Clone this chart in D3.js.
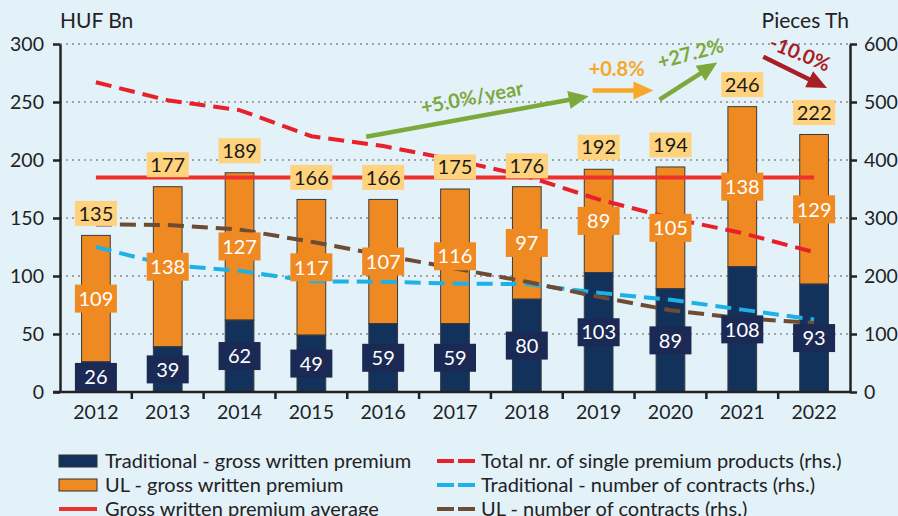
<html>

<head>
    <script src="https://d3js.org/d3.v7.min.js"></script>
    <style>
        body { margin: 0; background: #E3F1F9; }
        text { font-family: Lato, "Open Sans", sans-serif; }
    </style>
</head>

<body></body>
<script>

    // data
    var years = ["2012", "2013", "2014", "2015", "2016", "2017", "2018", "2019", "2020", "2021", "2022"];
    var traditional = [26, 39, 62, 49, 59, 59, 80, 103, 89, 108, 93];
    var ul = [109, 138, 127, 117, 107, 116, 97, 89, 105, 138, 129];
    var totals = [135, 177, 189, 166, 166, 175, 176, 192, 194, 246, 222];
    var average = 185;
    var singlePremium = [534, 503, 486, 441, 424, 400, 372, 332, 300, 274, 241];
    var tradContracts = [250, 219, 209, 191, 190, 187, 186, 171, 159, 142, 125];
    var ulContracts = [289, 288, 280, 259, 236, 213, 190, 164, 141, 127, 119];
    var leftTicks = [0, 50, 100, 150, 200, 250, 300];
    var rightTicks = [0, 100, 200, 300, 400, 500, 600];

    // annotation arrows (year, offset px, left-axis value)
    var arrows = [
        { label: "+5.0%/year", color: "#7DA93C", from: ["2016", -17, 220], to: ["2019", -10, 255], at: ["2017", 17, 254], rot: -11 },
        { label: "+0.8%", color: "#F6A828", from: ["2019", -6, 260], to: ["2020", -17, 260], at: ["2019", 18, 279], rot: 0 },
        { label: "+27.2%", color: "#7DA93C", from: ["2020", -11, 252], to: ["2021", -25, 284], at: ["2020", 20, 292], rot: -15 },
        { label: "-10.0%", color: "#A81E24", from: ["2021", 21, 289], to: ["2022", 13, 262], at: ["2022", -14, 292], rot: 22 }
    ];

    var W = 898, H = 516;
    var margin = { top: 44, right: 48, bottom: 124, left: 60 };
    var x0 = margin.left, x1 = W - margin.right, y0 = H - margin.bottom, y1 = margin.top;

    var svg = d3.select("body")
        .append("svg")
        .attr("width", W)
        .attr("height", H);

    svg.append("rect").attr("width", W).attr("height", H).attr("fill", "#E3F1F9");

    var x = d3.scaleBand().domain(years).range([x0, x1]);
    var bw = x.step() * 0.4;
    var cx = function (d) { return x(d) + x.bandwidth() / 2; };
    var yL = d3.scaleLinear().domain([0, 300]).range([y0, y1]);
    var yR = d3.scaleLinear().domain([0, 600]).range([y0, y1]);

    // grid
    svg.append("g")
        .selectAll("line")
        .data(leftTicks.slice(1))
        .enter()
        .append("line")
        .attr("x1", x0).attr("x2", x1)
        .attr("y1", d => yL(d)).attr("y2", d => yL(d))
        .attr("stroke", "#8a8a8a")
        .attr("stroke-width", 1.3)
        .attr("stroke-dasharray", "2,4");

    // bars
    var rows = years.map((d, i) => ({ year: d, trad: traditional[i], ul: ul[i], total: totals[i] }));

    svg.append("g")
        .selectAll("rect")
        .data(rows)
        .enter()
        .append("rect")
        .attr("x", d => cx(d.year) - bw / 2)
        .attr("width", bw)
        .attr("y", d => yL(d.trad + d.ul))
        .attr("height", d => yL(d.trad) - yL(d.trad + d.ul))
        .attr("fill", "#EF8A23")
        .attr("stroke", "#3b3b3b")
        .attr("stroke-width", 1);

    svg.append("g")
        .selectAll("rect")
        .data(rows)
        .enter()
        .append("rect")
        .attr("x", d => cx(d.year) - bw / 2)
        .attr("width", bw)
        .attr("y", d => yL(d.trad))
        .attr("height", d => yL(0) - yL(d.trad))
        .attr("fill", "#13325B")
        .attr("stroke", "#3b3b3b")
        .attr("stroke-width", 1);

    // average line
    svg.append("line")
        .attr("x1", cx(years[0])).attr("x2", cx(years[years.length - 1]))
        .attr("y1", yL(average)).attr("y2", yL(average))
        .attr("stroke", "#F0302A")
        .attr("stroke-width", 4);

    // rhs lines
    var lineR = function (vals) {
        return d3.line().x((d, i) => cx(years[i])).y(d => yR(d))(vals);
    };
    var series = [
        { vals: singlePremium, color: "#E8202A" },
        { vals: tradContracts, color: "#1EB1E6" },
        { vals: ulContracts, color: "#6E4B33" }
    ];
    svg.append("g")
        .selectAll("path")
        .data(series)
        .enter()
        .append("path")
        .attr("d", d => lineR(d.vals))
        .attr("fill", "none")
        .attr("stroke", d => d.color)
        .attr("stroke-width", 4)
        .attr("stroke-dasharray", "16,8");

    // data labels
    function addLabels(vals, yFn, fill, color, h) {
        var g = svg.append("g")
            .selectAll("g")
            .data(vals)
            .enter()
            .append("g")
            .attr("transform", (d, i) => "translate(" + cx(years[i]) + "," + yFn(d, i) + ")");
        g.append("rect")
            .attr("x", -21).attr("y", -h / 2)
            .attr("width", 42).attr("height", h)
            .attr("fill", fill);
        g.append("text")
            .attr("text-anchor", "middle")
            .attr("dy", "0.36em")
            .style("font-size", "20px")
            .attr("fill", color)
            .text(d => d);
    }
    addLabels(traditional, (d) => (yL(0) + yL(d)) / 2, "#1B2A55", "#ffffff", 28);
    addLabels(ul, (d, i) => (yL(traditional[i]) + yL(traditional[i] + d)) / 2, "#EF8A23", "#ffffff", 28);
    addLabels(totals, (d) => yL(d) - 22, "#FFD27D", "#1a1a1a", 25);

    // axes
    var axL = svg.append("g")
        .attr("transform", "translate(" + x0 + ",0)")
        .call(d3.axisLeft(yL).tickValues(leftTicks).tickSize(7).tickPadding(9).tickSizeOuter(0));
    var axR = svg.append("g")
        .attr("transform", "translate(" + x1 + ",0)")
        .call(d3.axisRight(yR).tickValues(rightTicks).tickSize(7).tickPadding(7).tickSizeOuter(0));
    var axB = svg.append("g")
        .attr("transform", "translate(0," + y0 + ")")
        .call(d3.axisBottom(x).tickSize(0).tickPadding(13).tickSizeOuter(0));
    svg.append("g")
        .selectAll("line")
        .data(years.slice(1))
        .enter()
        .append("line")
        .attr("x1", d => x(d)).attr("x2", d => x(d))
        .attr("y1", y0).attr("y2", y0 + 7)
        .attr("stroke", "#222")
        .attr("stroke-width", 2.5);

    [axL, axR, axB].forEach(function (a) {
        a.selectAll("path").attr("stroke", "#222").attr("stroke-width", 2.5);
        a.selectAll("line").attr("stroke", "#222").attr("stroke-width", 2.5);
        a.selectAll("text").style("font-size", "19.5px").style("font-family", "Lato").attr("fill", "#222");
    });
    axB.select(".domain").attr("d", "M" + (x0 - 7) + ",0H" + x1);

    svg.append("text").attr("x", x0).attr("y", 28).style("font-size", "21px").attr("fill", "#222").text("HUF Bn");
    svg.append("text").attr("x", x1 - 1).attr("y", 28).attr("text-anchor", "end").style("font-size", "21px").attr("fill", "#222").text("Pieces Th");

    // arrows
    var px = function (p) { return cx(p[0]) + p[1]; };
    var ag = svg.append("g")
        .selectAll("g")
        .data(arrows)
        .enter()
        .append("g");
    ag.each(function (d) {
        var g = d3.select(this);
        var ax = px(d.from), ay = yL(d.from[2]), bx = px(d.to), by = yL(d.to[2]);
        var ang = Math.atan2(by - ay, bx - ax);
        var hl = 20, hw = 9;
        var ex = bx - hl * Math.cos(ang), ey = by - hl * Math.sin(ang);
        g.append("line")
            .attr("x1", ax).attr("y1", ay).attr("x2", ex + 2 * Math.cos(ang)).attr("y2", ey + 2 * Math.sin(ang))
            .attr("stroke", d.color).attr("stroke-width", 4.5);
        g.append("path")
            .attr("d", "M" + bx + "," + by +
                "L" + (ex + hw * Math.sin(ang)) + "," + (ey - hw * Math.cos(ang)) +
                "L" + (ex - hw * Math.sin(ang)) + "," + (ey + hw * Math.cos(ang)) + "Z")
            .attr("fill", d.color);
        g.append("text")
            .attr("transform", "translate(" + px(d.at) + "," + yL(d.at[2]) + ") rotate(" + d.rot + ")")
            .attr("text-anchor", "middle")
            .attr("dy", "0.36em")
            .style("font-size", "20px")
            .style("font-weight", "bold")
            .attr("fill", d.color)
            .text(d.label);
    });

    // legend
    var legend = [
        { name: "Traditional - gross written premium", type: "bar", color: "#13325B", col: 0, row: 0 },
        { name: "UL - gross written premium", type: "bar", color: "#EF8A23", col: 0, row: 1 },
        { name: "Gross written premium average", type: "solid", color: "#F0302A", col: 0, row: 2 },
        { name: "Total nr. of single premium products (rhs.)", type: "dash", color: "#E8202A", col: 1, row: 0 },
        { name: "Traditional - number of contracts (rhs.)", type: "dash", color: "#1EB1E6", col: 1, row: 1 },
        { name: "UL - number of contracts (rhs.)", type: "dash", color: "#6E4B33", col: 1, row: 2 }
    ];
    var lg = svg.append("g")
        .selectAll("g")
        .data(legend)
        .enter()
        .append("g")
        .attr("transform", d => "translate(" + (d.col ? 437 : 59) + "," + (461 + d.row * 24) + ")");
    lg.filter(d => d.type == "bar").append("rect")
        .attr("x", 0).attr("y", -6).attr("width", 38).attr("height", 12)
        .attr("fill", d => d.color).attr("stroke", "#333").attr("stroke-width", 1);
    lg.filter(d => d.type != "bar").append("line")
        .attr("x1", 0).attr("x2", 38).attr("y1", 0).attr("y2", 0)
        .attr("stroke", d => d.color).attr("stroke-width", 4)
        .attr("stroke-dasharray", d => d.type == "dash" ? "17,4" : null);
    lg.append("text")
        .attr("x", d => d.col ? 44 : 46)
        .attr("dy", "0.36em")
        .style("font-size", "20px")
        .attr("fill", "#222")
        .text(d => d.name);

</script>

</html>
